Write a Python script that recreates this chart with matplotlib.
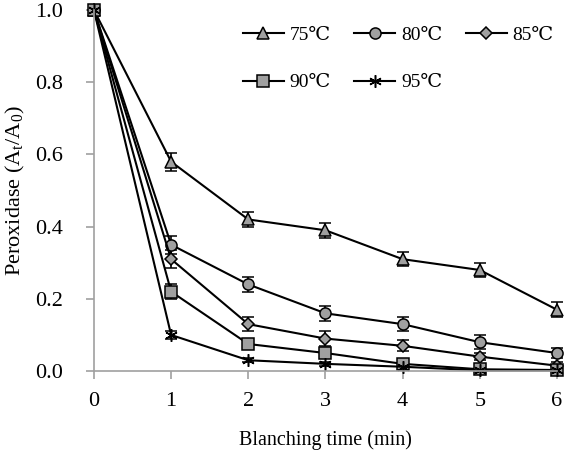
import matplotlib
matplotlib.use("Agg")
import matplotlib.pyplot as plt

plt.rcParams['font.family'] = ['Liberation Serif', 'DejaVu Serif']
plt.rcParams['mathtext.fontset'] = 'custom'
plt.rcParams['mathtext.rm'] = 'Liberation Serif'
plt.rcParams['mathtext.it'] = 'Liberation Serif:italic'

times = [0, 1, 2, 3, 4, 5, 6]
labels = ['75\u2103', '80\u2103', '85\u2103', '90\u2103', '95\u2103']
t75 = [1.0, 0.58, 0.42, 0.39, 0.31, 0.28, 0.17]
t80 = [1.0, 0.35, 0.24, 0.16, 0.13, 0.08, 0.05]
t85 = [1.0, 0.31, 0.13, 0.09, 0.07, 0.04, 0.015]
t90 = [1.0, 0.22, 0.075, 0.05, 0.02, 0.005, 0.003]
t95 = [1.0, 0.10, 0.03, 0.02, 0.012, 0.002, 0.002]
e75 = [0.0, 0.025, 0.02, 0.02, 0.02, 0.02, 0.02]
e80 = [0.0, 0.025, 0.02, 0.02, 0.02, 0.02, 0.015]
e85 = [0.0, 0.025, 0.02, 0.02, 0.015, 0.01, 0.01]
e90 = [0.0, 0.02, 0.01, 0.01, 0.01, 0.005, 0.005]
e95 = [0.0, 0.01, 0.005, 0.005, 0.005, 0.003, 0.003]

series = [t75, t80, t85, t90, t95]
errors = [e75, e80, e85, e90, e95]
markers = ['^', 'o', 'D', 's', (6, 2, 0)]
msizes = [8, 8, 6, 8, 9]

fig = plt.figure(figsize=(5.66, 4.57), dpi=100)
ax = fig.add_axes([0.166, 0.188, 0.818, 0.790])

for vals, err, mk, ms, lab in zip(series, errors, markers, msizes, labels):
    ax.errorbar(times, vals, yerr=err, color='black', lw=1.5, marker=mk,
                markersize=ms, markerfacecolor='#a0a0a0', markeredgecolor='black',
                markeredgewidth=1.1, ecolor='black', elinewidth=1.2, capsize=4,
                capthick=1.2, label=lab, clip_on=False)

ax.set_xlim(0, 6)
ax.set_ylim(0, 1.0)
ax.set_xticks(times)
ax.set_yticks([0, 0.2, 0.4, 0.6, 0.8, 1.0])
ax.set_yticklabels(['0.0', '0.2', '0.4', '0.6', '0.8', '1.0'])
for s in ['top', 'right']:
    ax.spines[s].set_visible(False)
for s in ['left', 'bottom']:
    ax.spines[s].set_color('#a0a0a0')
    ax.spines[s].set_linewidth(1.2)
ax.tick_params(axis='both', colors='#a0a0a0', labelcolor='black', labelsize=16,
               length=6, width=1.2, direction='out')
ax.tick_params(axis='y', pad=16)
ax.tick_params(axis='x', pad=9)
ax.set_xlabel('Blanching time (min)', fontsize=14.5, labelpad=14)
ax.set_ylabel('Peroxidase (A$_\\mathrm{t}$/A$_0$)', fontsize=16, labelpad=6)

# row-wise legend: matplotlib fills columns first
handles, labs = ax.get_legend_handles_labels()
handles = [h[0] for h in handles]
order = [0, 3, 1, 4, 2]
ax.legend([handles[i] for i in order], [labs[i] for i in order], ncol=3,
          loc='upper left', bbox_to_anchor=(243 / 566, 1 - 26 / 457),
          bbox_transform=fig.transFigure, frameon=False, fontsize=14,
          borderpad=0, borderaxespad=0, handlelength=2.1, columnspacing=1.2,
          handletextpad=0.3, labelspacing=1.55)

fig.savefig('out.png', dpi=100)
